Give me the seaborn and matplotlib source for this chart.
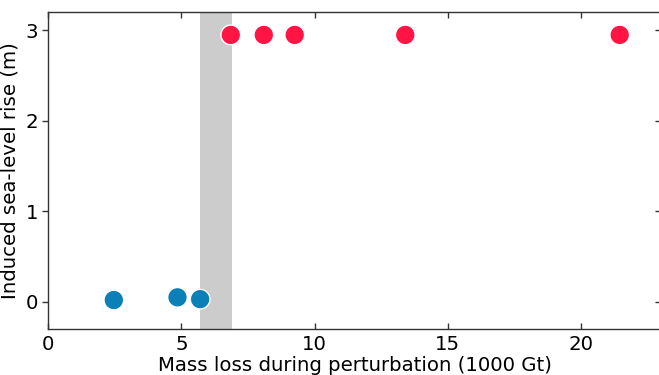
import matplotlib
matplotlib.use('Agg')
import matplotlib.pyplot as plt
import seaborn as sns
import pandas as pd

# mass loss (1000 Gt) and induced sea-level rise (m)
stable_mass = [2.46, 4.85, 5.70]
stable_slr = [0.02, 0.05, 0.03]
collapse_mass = [6.85, 8.09, 9.25, 13.40, 21.45]
collapse_slr = [2.95, 2.95, 2.95, 2.95, 2.95]
threshold = [5.70, 6.88]

df = pd.DataFrame({
    'mass': stable_mass + collapse_mass,
    'slr': stable_slr + collapse_slr,
    'state': ['stable'] * len(stable_mass) + ['collapse'] * len(collapse_mass),
})

sns.set_style('white')
plt.rcParams['font.family'] = ['DejaVu Sans']
plt.rcParams['text.color'] = 'black'
plt.rcParams['axes.labelcolor'] = 'black'
plt.rcParams['xtick.color'] = 'black'
plt.rcParams['ytick.color'] = 'black'

fig = plt.figure(figsize=(6.59, 3.75), dpi=100)
ax = fig.add_axes([48.3 / 659, 1 - 329 / 375, (661 - 48.3) / 659, (329 - 12.3) / 375])

ax.axvspan(threshold[0], threshold[1], color='#cccccc', lw=0, zorder=0)
sns.scatterplot(data=df, x='mass', y='slr', hue='state',
                palette={'stable': '#0a80b6', 'collapse': '#ff1444'},
                s=200, edgecolor='white', linewidth=1, legend=False, ax=ax, zorder=3)

ax.set_xlim(0, 23)
ax.set_ylim(-0.3, 3.2)
ax.set_xticks([0, 5, 10, 15, 20])
ax.set_yticks([0, 1, 2, 3])
ax.set_xlabel('Mass loss during perturbation (1000 Gt)', fontsize=14.2, labelpad=2)
ax.set_ylabel('Induced sea-level rise (m)', fontsize=14.2)

ax.tick_params(axis='x', direction='in', top=True, bottom=True, length=4, width=1,
               labelsize=14.2, pad=4, color='#333333')
ax.tick_params(axis='y', which='both', left=True, right=True, length=4, width=1,
               labelsize=14.2, color='#333333', direction='out')
for t in ax.yaxis.get_major_ticks():
    t.tick2line.set_marker(0)  # inward tick on the right side

for sp in ax.spines.values():
    sp.set_color('#333333')
    sp.set_linewidth(1)

fig.savefig('out.png', dpi=100)
